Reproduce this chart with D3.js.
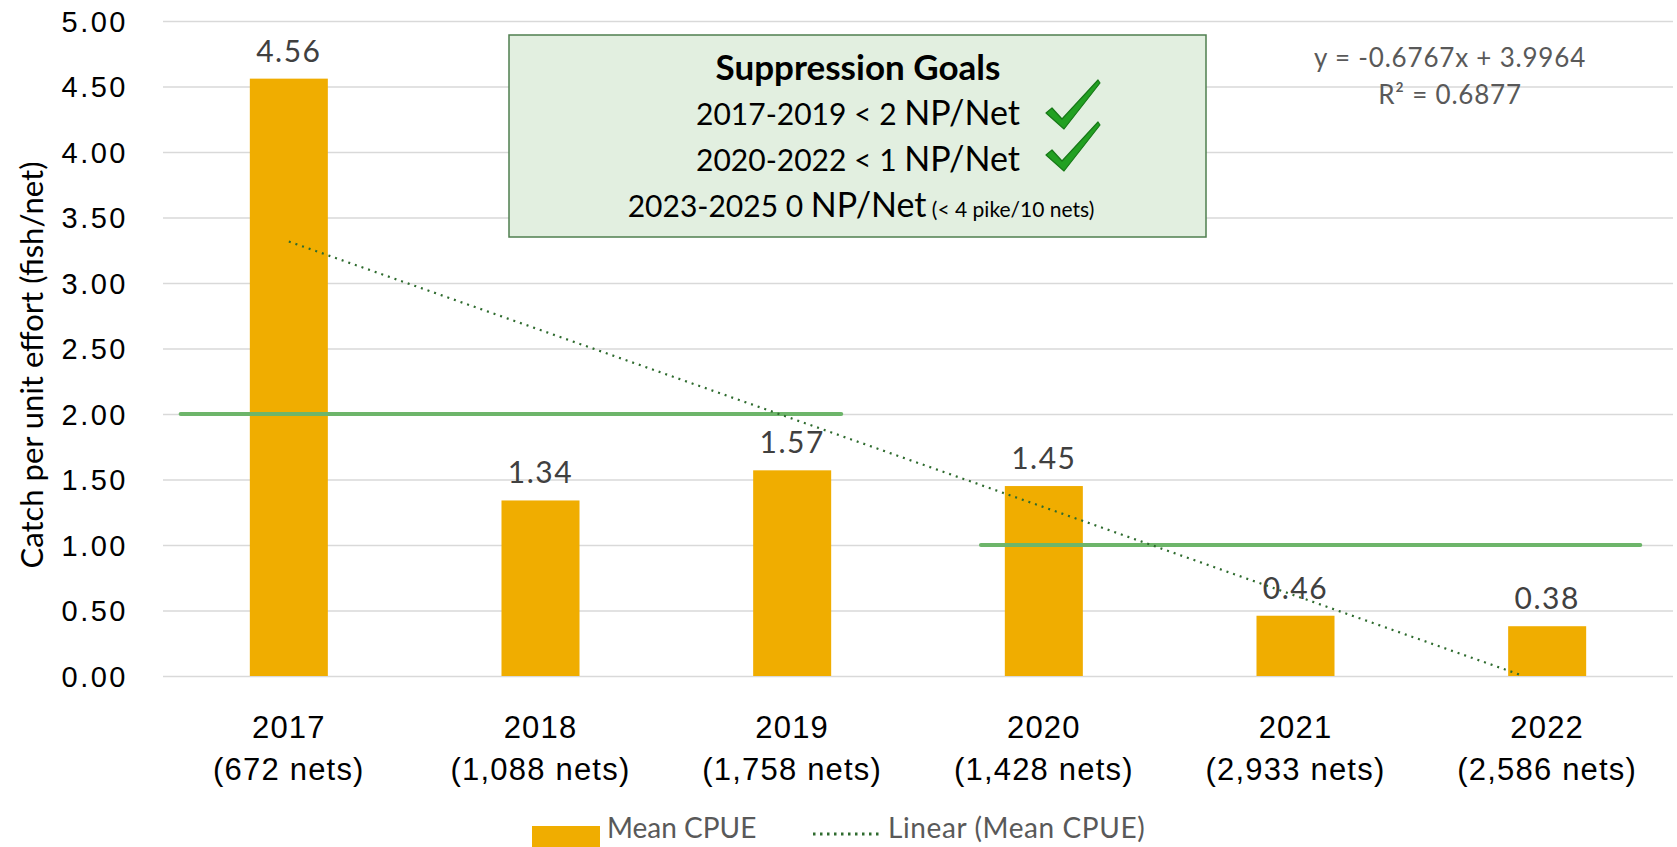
<!DOCTYPE html>
<html>
<head>
<meta charset="utf-8">
<script src="https://cdn.jsdelivr.net/npm/d3@7"></script>
<style>
    body { margin: 0; background: #fff; }
    svg { display: block; font-family: Lato, "Open Sans", sans-serif; }
</style>
</head>
<body>
<div id="chart"></div>
<script>
let years = ["2017", "2018", "2019", "2020", "2021", "2022"];
let netCounts = ["(672 nets)", "(1,088 nets)", "(1,758 nets)", "(1,428 nets)", "(2,933 nets)", "(2,586 nets)"];
let meanCpue = [4.56, 1.34, 1.57, 1.45, 0.46, 0.38];
let yTicks = [0, 0.5, 1, 1.5, 2, 2.5, 3, 3.5, 4, 4.5, 5];

// suppression goal lines
let goalValues = [2, 1];
let goalFrom = ["2017", "2020"];
let goalTo = ["2019", "2022"];

let goalLines = [
    { lead: "2017-2019 < 2 ", tail: "NP/Net", check: true },
    { lead: "2020-2022 < 1 ", tail: "NP/Net", check: true },
    { lead: "2023-2025 0 ", tail: "NP/Net", note: " (< 4 pike/10 nets)", check: false }
];

let trendText = ["y = -0.6767x + 3.9964", "R² = 0.6877"];


let cpueChart = function () {
    let width = 1677;
    let height = 847;
    let margin = { top: 21, right: 4, bottom: 171, left: 163 };

    function chart(selection)
    {
        let svg = selection.append("svg")
            .attr("width", width)
            .attr("height", height);

        let innerW = width - margin.left - margin.right;
        let innerH = height - margin.top - margin.bottom;

        let g = svg.append("g")
            .attr("transform", `translate(${margin.left},${margin.top})`);

        let x = d3.scaleBand()
            .domain(years)
            .range([0, innerW])
            .paddingInner(0.69)
            .paddingOuter(0.345);

        let y = d3.scaleLinear()
            .domain([0, 5])
            .range([innerH, 0]);

        let center = yr => x(yr) + x.bandwidth() / 2;

        // gridlines + y labels
        let yAxis = g.append("g")
            .call(d3.axisLeft(y)
                .tickValues(yTicks)
                .tickFormat(d3.format(".2f"))
                .tickSize(-innerW)
                .tickPadding(35));
        yAxis.select(".domain").remove();
        yAxis.selectAll(".tick line")
            .attr("stroke", "#d9d9d9")
            .attr("stroke-width", 1.6);
        yAxis.selectAll(".tick text")
            .attr("fill", "#000")
            .attr("dy", "0.36em")
            .style("font-size", "29px")
            .style("letter-spacing", "2.5px");

        svg.append("text")
            .attr("transform", `translate(43,365) rotate(-90)`)
            .attr("text-anchor", "middle")
            .style("font-size", "31px")
            .attr("fill", "#000")
            .text("Catch per unit effort (fish/net)");

        // x labels, two lines each
        let xAxis = g.append("g")
            .attr("transform", `translate(0,${innerH})`)
            .call(d3.axisBottom(x).tickSize(0).tickFormat(""));
        xAxis.select(".domain").remove();
        xAxis.selectAll(".tick").each(function (d, i) {
            let t = d3.select(this).append("text")
                .attr("text-anchor", "middle")
                .attr("fill", "#000")
                .style("font-size", "31px")
                .style("letter-spacing", "1.2px");
            t.append("tspan").attr("x", 0).attr("y", 62).text(d);
            t.append("tspan").attr("x", 0).attr("y", 104).text(netCounts[i]);
        });

        // bars
        g.selectAll("rect.bar")
            .data(meanCpue)
            .enter()
            .append("rect")
            .attr("class", "bar")
            .attr("x", (d, i) => x(years[i]))
            .attr("y", d => y(d))
            .attr("width", x.bandwidth())
            .attr("height", d => innerH - y(d))
            .attr("fill", "#f0ad00");

        // goal lines (hand placed in the original, offsets in slot units)
        let goalPad = [[-0.43, 0.195], [-0.25, 0.37]];
        goalValues.forEach((v, i) => {
            g.append("line")
                .attr("x1", center(goalFrom[i]) + goalPad[i][0] * x.step())
                .attr("x2", center(goalTo[i]) + goalPad[i][1] * x.step())
                .attr("y1", y(v))
                .attr("y2", y(v))
                .attr("stroke", "#6db56a")
                .attr("stroke-width", 4)
                .attr("stroke-linecap", "round");
        });

        // data labels
        g.selectAll("text.val")
            .data(meanCpue)
            .enter()
            .append("text")
            .attr("class", "val")
            .attr("x", (d, i) => center(years[i]))
            .attr("y", d => y(d) - 17)
            .attr("text-anchor", "middle")
            .attr("fill", "#404040")
            .style("font-size", "30px")
            .style("letter-spacing", "1.5px")
            .text(d => d.toFixed(2));

        // least squares trend, x = 1..6, cut at zero
        let n = meanCpue.length;
        let xs = d3.range(1, n + 1);
        let mx = d3.mean(xs), my = d3.mean(meanCpue);
        let slope = d3.sum(xs, (v, i) => (v - mx) * (meanCpue[i] - my)) / d3.sum(xs, v => (v - mx) * (v - mx));
        let icpt = my - slope * mx;
        let xEnd = Math.min(n, -icpt / slope);
        let xi = d3.scaleLinear().domain([1, n]).range([center(years[0]), center(years[n - 1])]);

        g.append("line")
            .attr("x1", xi(1))
            .attr("y1", y(icpt + slope))
            .attr("x2", xi(xEnd))
            .attr("y2", y(Math.max(0, icpt + slope * xEnd)))
            .attr("stroke", "#2e6b2e")
            .attr("stroke-width", 2.2)
            .attr("stroke-dasharray", "2,5");

        // trend equation
        svg.append("g").selectAll("text")
            .data(trendText)
            .enter()
            .append("text")
            .attr("x", 1450)
            .attr("y", (d, i) => 67 + i * 37)
            .attr("text-anchor", "middle")
            .attr("fill", "#595959")
            .style("font-size", "26px")
            .style("letter-spacing", "0.8px")
            .text(d => d);

        // goals box
        let box = svg.append("g");
        box.append("rect")
            .attr("x", 509).attr("y", 35)
            .attr("width", 697).attr("height", 202)
            .attr("fill", "#e2efe0")
            .attr("stroke", "#4f7f4f")
            .attr("stroke-width", 1.5);
        box.append("text")
            .attr("x", 858).attr("y", 80)
            .attr("text-anchor", "middle")
            .style("font-size", "35px")
            .style("font-weight", "bold")
            .attr("fill", "#000")
            .text("Suppression Goals");

        goalLines.forEach((d, i) => {
            let t = box.append("text")
                .attr("x", d.check ? 858 : 861)
                .attr("y", 125 + i * 46)
                .attr("text-anchor", "middle")
                .attr("fill", "#000");
            t.append("tspan").style("font-size", "30px").text(d.lead);
            t.append("tspan").style("font-size", "34px").text(d.tail);
            if (d.note) t.append("tspan").style("font-size", "21px").text(d.note);
            if (d.check) {
                box.append("path")
                    .attr("transform", `translate(1063,${128 + i * 42})`)
                    .attr("d", "M-17,-15 L-11,-20 L-1,-9 L35,-48 L37,-45 L1,1 Z")
                    .attr("fill", "#22a022")
                    .attr("stroke", "#177817")
                    .attr("stroke-width", 1.2)
                    .attr("stroke-linejoin", "round");
            }
        });

        // legend along the lower edge
        let leg = svg.append("g").attr("transform", "translate(0,838)");
        leg.append("rect")
            .attr("x", 532).attr("y", -12)
            .attr("width", 68).attr("height", 21)
            .attr("fill", "#f0ad00");
        leg.append("text")
            .attr("x", 607).attr("y", 0)
            .attr("fill", "#595959")
            .style("font-size", "28px")
            .text("Mean CPUE");
        leg.append("line")
            .attr("x1", 813).attr("x2", 880)
            .attr("y1", -4).attr("y2", -4)
            .attr("stroke", "#2e6b2e")
            .attr("stroke-width", 3)
            .attr("stroke-dasharray", "2.5,4.5");
        leg.append("text")
            .attr("x", 888).attr("y", 0)
            .attr("fill", "#595959")
            .style("font-size", "28px")
            .style("letter-spacing", "0.6px")
            .text("Linear (Mean CPUE)");
    }

    chart.width = function (value) {
        if (!arguments.length) { return width; }
        width = value;
        return chart;
    };

    chart.height = function (value) {
        if (!arguments.length) { return height; }
        height = value;
        return chart;
    };

    return chart;
};


window.onload = () =>
{
    let myChart = cpueChart();
    d3.select("#chart").call(myChart);
};
</script>
</body>
</html>
